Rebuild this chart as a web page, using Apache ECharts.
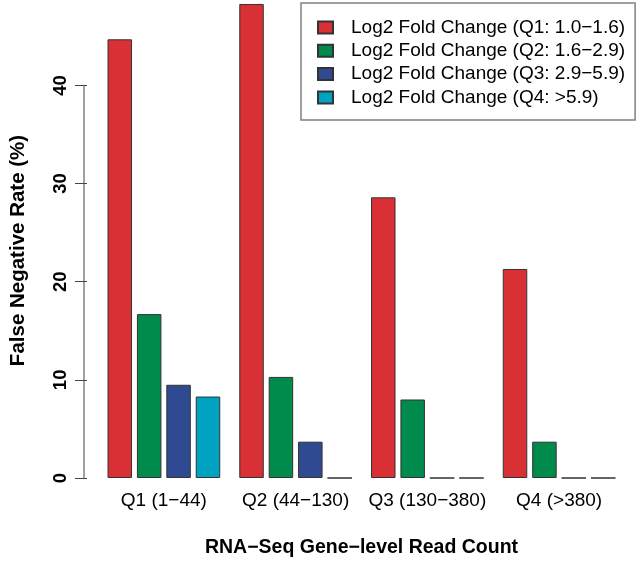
<!DOCTYPE html>
<html>
<head>
<meta charset="utf-8">
<script src="https://cdn.jsdelivr.net/npm/echarts@6/dist/echarts.min.js"></script>
<style>
html,body{margin:0;padding:0;background:#fff;}
#chart{width:640px;height:563px;}
</style>
</head>
<body>
<div id="chart"></div>
<script>
// ---- data ----
const categories = ['Q1 (1\u221244)', 'Q2 (44\u2212130)', 'Q3 (130\u2212380)', 'Q4 (>380)'];
const seriesNames = [
  'Log2 Fold Change (Q1: 1.0\u22121.6)',
  'Log2 Fold Change (Q2: 1.6\u22122.9)',
  'Log2 Fold Change (Q3: 2.9\u22125.9)',
  'Log2 Fold Change (Q4: >5.9)'
];
const fcQ1 = [44.7, 48.3, 28.6, 21.3];
const fcQ2 = [16.7, 10.3, 8.0, 3.7];
const fcQ3 = [9.5, 3.7, 0, 0];
const fcQ4 = [8.3, 0, 0, 0];
const yTicks = [0, 10, 20, 30, 40];

// ---- styling / layout ----
const colors = ['#D93035', '#008A4B', '#2F4A90', '#00A2C1'];
const FONT = 'Liberation Sans, Arial, Helvetica, sans-serif';
const GRID_LEFT = 95, GRID_RIGHT = 15, GRID_TOP = 3, GRID_BOTTOM = 82;
const Y_OFFSET = 11;

const chart = echarts.init(document.getElementById('chart'), null, {renderer: 'canvas'});
const allValues = [fcQ1, fcQ2, fcQ3, fcQ4];

const option = {
  animation: false,
  backgroundColor: '#ffffff',
  textStyle: {fontFamily: FONT},
  grid: {left: GRID_LEFT, right: GRID_RIGHT, top: GRID_TOP, bottom: GRID_BOTTOM, containLabel: false},
  legend: {
    orient: 'vertical',
    left: 301, top: 3,
    padding: [13, 10, 11, 16],
    itemWidth: 15, itemHeight: 12, itemGap: 0.3,
    icon: 'rect',
    borderColor: '#808080', borderWidth: 1.5,
    textStyle: {fontFamily: FONT, fontSize: 19, color: '#000', lineHeight: 23, padding: [0, 0, 0, 13]},
    data: seriesNames
  },
  xAxis: {
    type: 'category',
    data: categories,
    axisLine: {show: false},
    axisTick: {show: false},
    axisLabel: {fontFamily: FONT, fontSize: 19, color: '#000', margin: 13, interval: 0},
    name: 'RNA\u2212Seq Gene\u2212level Read Count',
    nameLocation: 'middle',
    nameGap: 60,
    nameTextStyle: {fontFamily: FONT, fontSize: 19.5, fontWeight: 'bold', color: '#000'}
  },
  yAxis: {
    type: 'value',
    min: 0, max: 48.4,
    offset: Y_OFFSET,
    axisLine: {show: false},
    splitLine: {show: false},
    axisTick: {show: true, length: 12, lineStyle: {color: '#444', width: 1}, customValues: yTicks},
    axisLabel: {fontFamily: FONT, fontSize: 18.5, fontWeight: 'bold', color: '#000', rotate: 90, margin: 17, customValues: yTicks},
    name: 'False Negative Rate (%)',
    nameLocation: 'middle',
    nameRotate: 90,
    nameGap: 58,
    nameTextStyle: {fontFamily: FONT, fontSize: 20.5, fontWeight: 'bold', color: '#000', padding: [0, 20, 0, 0]}
  },
  series: seriesNames.map((n, i) => ({
    name: n,
    type: 'bar',
    data: allValues[i],
    barWidth: 24.5,
    barGap: '20%',
    itemStyle: {color: colors[i], borderColor: '#333', borderWidth: 1},
    emphasis: {disabled: true}
  }))
};
chart.setOption(option);

// y axis line from first to last tick, positioned by the axis scale
const yTop = chart.convertToPixel({yAxisIndex: 0}, yTicks[yTicks.length - 1]);
const yBot = chart.convertToPixel({yAxisIndex: 0}, yTicks[0]);
const ax = GRID_LEFT - Y_OFFSET;
chart.setOption({
  graphic: [{
    type: 'line',
    shape: {x1: ax, y1: yTop, x2: ax, y2: yBot},
    style: {stroke: '#444', lineWidth: 1}
  }]
});
</script>
</body>
</html>
